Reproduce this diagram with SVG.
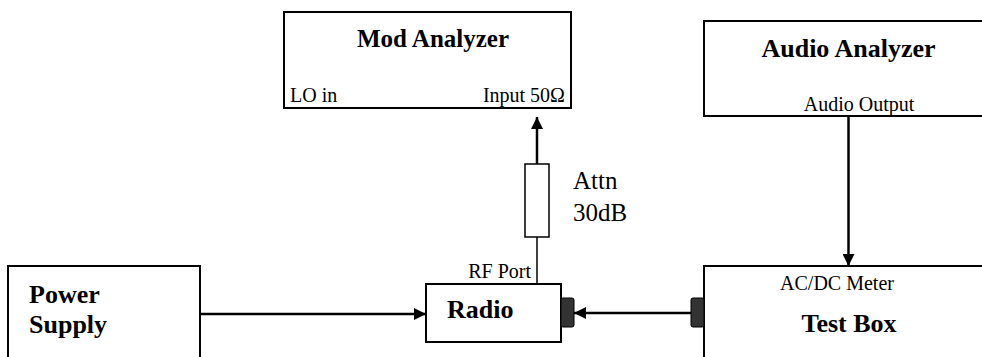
<svg xmlns="http://www.w3.org/2000/svg" width="982" height="357" viewBox="0 0 982 357">
<style>
.box{fill:#fff;stroke:#000;stroke-width:2}
.title{font-family:"Liberation Serif","Times New Roman",serif;font-weight:bold;font-size:26px;fill:#000}
.lbl{font-family:"Liberation Serif","Times New Roman",serif;font-size:20px;fill:#000}
.big{font-family:"Liberation Serif","Times New Roman",serif;font-size:25px;fill:#000}
.wire{stroke:#000;stroke-width:2.5;fill:none}
.thin{stroke:#000;stroke-width:1.5;fill:none}
.port{fill:#333;stroke:#000;stroke-width:1}
</style>
<defs>
<marker id="arr" markerWidth="12" markerHeight="12" refX="12" refY="6" orient="auto" markerUnits="userSpaceOnUse" viewBox="0 0 12 12">
<path d="M0,0 L12,6 L0,12 z" fill="#000"/>
</marker>
</defs>
<rect width="982" height="357" fill="#fff"/>
<g id="mod-analyzer">
<rect class="box" x="284" y="12" width="287" height="96"/>
<text class="title" x="433" y="47" text-anchor="middle" style="font-size:25px">Mod Analyzer</text>
<text class="lbl" x="290" y="102">LO in</text>
<text class="lbl" x="565" y="102" text-anchor="end">Input 50Ω</text>
</g>
<g id="audio-analyzer">
<rect class="box" x="704" y="21" width="290" height="95"/>
<text class="title" x="848.5" y="57" text-anchor="middle">Audio Analyzer</text>
<text class="lbl" x="859" y="111" text-anchor="middle">Audio Output</text>
</g>
<g id="attenuator">
<rect x="525" y="164" width="24" height="73" fill="#fff" stroke="#000" stroke-width="1.5"/>
<text class="big" x="573" y="189">Attn</text>
<text class="big" x="573" y="221">30dB</text>
</g>
<g id="power-supply">
<rect class="box" x="8" y="266" width="192" height="100"/>
<text class="title" x="29" y="303">Power</text>
<text class="title" x="29" y="333">Supply</text>
</g>
<g id="radio">
<rect class="box" x="426" y="284" width="135" height="58"/>
<rect class="port" x="561" y="298" width="13" height="29" rx="2"/>
<text class="title" x="447" y="318">Radio</text>
<text class="lbl" x="531" y="278" text-anchor="end">RF Port</text>
</g>
<g id="test-box">
<rect class="box" x="704" y="266" width="290" height="100"/>
<rect class="port" x="691" y="298" width="13" height="29" rx="2"/>
<text class="lbl" x="837" y="290" text-anchor="middle">AC/DC Meter</text>
<text class="title" x="849" y="332" text-anchor="middle">Test Box</text>
</g>
<g id="connectors">
<line class="thin" x1="537" y1="284" x2="537" y2="237"/>
<line class="wire" x1="537" y1="164" x2="537" y2="117" marker-end="url(#arr)"/>
<line class="wire" x1="848.5" y1="116" x2="848.5" y2="266" marker-end="url(#arr)"/>
<line class="wire" x1="200" y1="314" x2="426" y2="314" marker-end="url(#arr)"/>
<line class="wire" x1="691" y1="313" x2="574" y2="313" marker-end="url(#arr)"/>
</g>
</svg>
